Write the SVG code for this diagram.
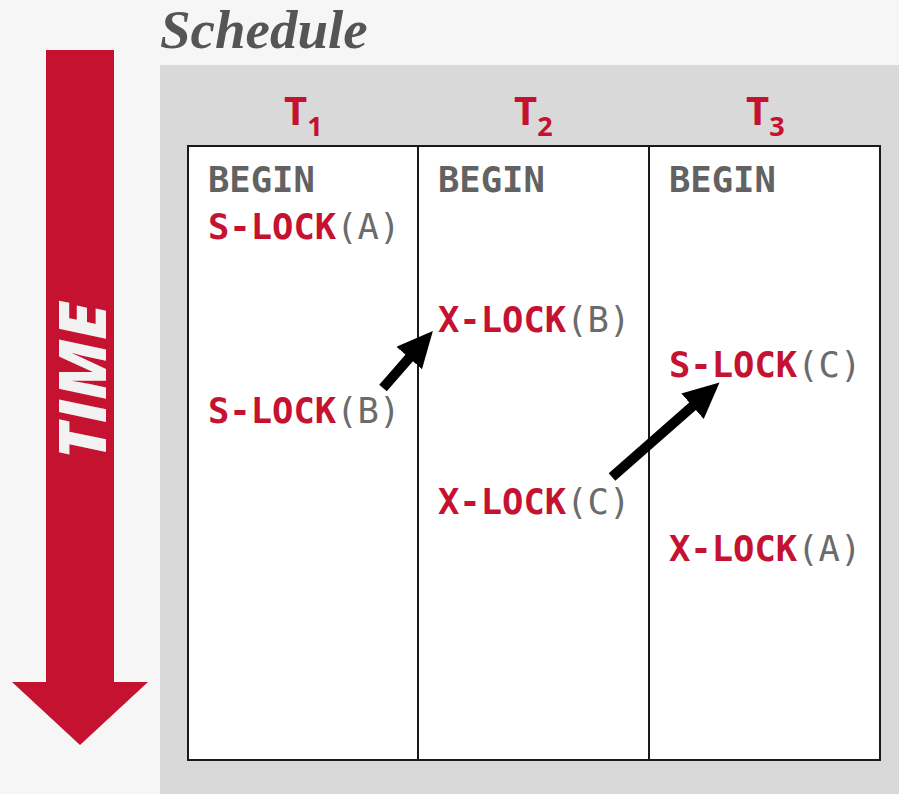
<svg xmlns="http://www.w3.org/2000/svg" width="899" height="794" viewBox="0 0 899 794">
<style>
.code{font-family:"DejaVu Sans Mono","Liberation Mono",monospace;font-size:35.5px;font-weight:bold}
.kw{fill:#c41230}
.arg{fill:#6b6b6b;font-weight:normal}
.begin{fill:#626262}
.hdr{font-family:"Open Sans","Liberation Sans",sans-serif;font-weight:bold;fill:#c41230;font-size:40px}
.sub{font-size:27px}
.col{fill:#ffffff;stroke:#1a1a1a;stroke-width:2}
.conn{stroke:#000;stroke-width:10;fill:none}
</style>
<defs>
<marker id="ah" markerUnits="userSpaceOnUse" markerWidth="40" markerHeight="40" refX="2" refY="17" orient="auto">
<path d="M0,0 L36,17 L0,34 z" fill="#000"/>
</marker>
</defs>
<rect x="0" y="0" width="899" height="794" fill="#f6f6f6"/>
<rect x="160" y="65" width="739" height="729" fill="#d9d9d9"/>
<text x="160" y="48" font-family="Liberation Serif,serif" font-style="italic" font-weight="bold" font-size="55" fill="#555">Schedule</text>
<g id="time-arrow">
<path d="M46,50 H114 V682 H148 L80,745 L12,682 H46 Z" fill="#c41230"/>
<text transform="translate(106,381) rotate(-90)" text-anchor="middle" font-family="Open Sans,Liberation Sans,sans-serif" font-style="italic" font-weight="800" font-size="66" fill="#f2f2f2">TIME</text>
</g>
<g id="T1">
<rect class="col" x="188" y="146" width="230" height="614"/>
<text class="hdr" x="284" y="125">T<tspan class="sub" dy="11">1</tspan></text>
<text class="code begin" x="208" y="192">BEGIN</text>
<text class="code" x="208" y="239"><tspan class="kw">S-LOCK</tspan><tspan class="arg">(A)</tspan></text>
<text class="code" x="208" y="423"><tspan class="kw">S-LOCK</tspan><tspan class="arg">(B)</tspan></text>
</g>
<g id="T2">
<rect class="col" x="418" y="146" width="231" height="614"/>
<text class="hdr" x="514" y="125">T<tspan class="sub" dy="11">2</tspan></text>
<text class="code begin" x="438" y="192">BEGIN</text>
<text class="code" x="438" y="332"><tspan class="kw">X-LOCK</tspan><tspan class="arg">(B)</tspan></text>
<text class="code" x="438" y="514"><tspan class="kw">X-LOCK</tspan><tspan class="arg">(C)</tspan></text>
</g>
<g id="T3">
<rect class="col" x="649" y="146" width="231" height="614"/>
<text class="hdr" x="746" y="125">T<tspan class="sub" dy="11">3</tspan></text>
<text class="code begin" x="669" y="192">BEGIN</text>
<text class="code" x="669" y="377"><tspan class="kw">S-LOCK</tspan><tspan class="arg">(C)</tspan></text>
<text class="code" x="669" y="561"><tspan class="kw">X-LOCK</tspan><tspan class="arg">(A)</tspan></text>
</g>
<g id="connectors">
<line class="conn" x1="383" y1="388" x2="410.5" y2="356.5" marker-end="url(#ah)"/>
<line class="conn" x1="612" y1="477" x2="694" y2="405" marker-end="url(#ah)"/>
</g>
</svg>
